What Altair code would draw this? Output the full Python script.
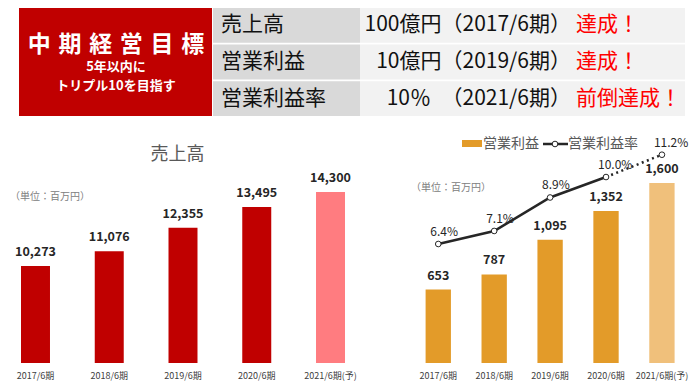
import altair as alt
import pandas as pd

# ---------------- data ----------------
periods = ["2017/6期", "2018/6期", "2019/6期", "2020/6期", "2021/6期(予)"]
is_forecast = [False, False, False, False, True]
sales = [10273, 11076, 12355, 13495, 14300]
op_profit = [653, 787, 1095, 1352, 1600]
op_margin = [6.4, 7.1, 8.9, 10.0, 11.2]

goal_items = ["売上高", "営業利益", "営業利益率"]
goal_targets = ["100億円", "10億円", "10％\u3000"]
goal_periods = ["（2017/6期）", "（2019/6期）", "（2021/6期）"]
goal_status = ["達成！", "達成！", "前倒達成！"]
banner_title = "中期経営目標"
banner_sub = ["5年以内に", "トリプル10を目指す"]
sales_title = "売上高"
unit_label = "（単位：百万円）"
legend_labels = ["営業利益", "営業利益率"]

FONT = "Noto Sans CJK JP"
RED, PINK = "#c00000", "#ff7c80"
ORANGE, LORANGE = "#e39b29", "#f0c07b"
DARK = "#262626"

df = pd.DataFrame({
    "period": periods,
    "sales": sales,
    "profit": op_profit,
    "margin": op_margin,
    "kind": ["予想" if f else "実績" for f in is_forecast],
})
goals = pd.DataFrame({
    "item": goal_items,
    "target": goal_targets,
    "when": goal_periods,
    "status": goal_status,
})
one = pd.DataFrame({"k": [0]})

# ---------------- scales ----------------
ROWS = alt.Scale(type="band", domain=goal_items, range=[0, 108], paddingInner=0.05, paddingOuter=0)
L_X = alt.Scale(type="band", domain=periods, range=[13, 337], paddingInner=0.607, paddingOuter=0)
L_Y = alt.Scale(domain=[5000, 24319], range=[355, 0], zero=False, nice=False)
R_X = alt.Scale(type="band", domain=periods, range=[417.6, 666.6], paddingInner=0.547, paddingOuter=0)
R_YB = alt.Scale(domain=[0, 3156], range=[355, 0], nice=False)
R_YL = alt.Scale(domain=[0, 19.09], range=[355, 0], nice=False)


def xaxis():
    return alt.Axis(title=None, orient="bottom", domain=False, ticks=False, tickSize=0,
                    labelAngle=0, labelFont=FONT, labelFontSize=9, labelColor="#404040",
                    labelPadding=1, grid=False)


# ---------------- header ----------------
red_box = alt.Chart(one).mark_rect(color=RED).encode(
    x=alt.value(11), x2=alt.value(204), y=alt.value(0), y2=alt.value(108))

banner_t = alt.Chart(one).mark_text(
    text="\u2004".join(banner_title), font=FONT, fontSize=23, fontWeight="bold",
    color="white", align="center", baseline="middle").encode(x=alt.value(108), y=alt.value(37))
banner_s1 = alt.Chart(one).mark_text(
    text=banner_sub[0], font=FONT, fontSize=13, fontWeight="bold",
    color="white", align="center", baseline="middle").encode(x=alt.value(108), y=alt.value(59))
banner_s2 = alt.Chart(one).mark_text(
    text=banner_sub[1], font=FONT, fontSize=13, fontWeight="bold",
    color="white", align="center", baseline="middle").encode(x=alt.value(108), y=alt.value(78))

rowy = alt.Y("item:N", scale=ROWS, axis=None)
cell_lab = alt.Chart(goals).mark_rect(color="#d9d9d9").encode(
    x=alt.value(205), x2=alt.value(352), y=rowy)
cell_val = alt.Chart(goals).mark_rect(color="#f2f2f2").encode(
    x=alt.value(352), x2=alt.value(677), y=rowy)

txt_item = alt.Chart(goals).mark_text(
    font=FONT, fontSize=21, color="#111111", align="left", baseline="middle").encode(
    x=alt.value(213), y=rowy, text="item:N")
txt_goal = alt.Chart(goals).transform_calculate(
    line="datum.target + datum.when").mark_text(
    font=FONT, fontSize=21, color="#111111", align="right", baseline="middle").encode(
    x=alt.value(563), y=rowy, text="line:N")
txt_status = alt.Chart(goals).mark_text(
    font=FONT, fontSize=21, color="#ff0000", align="left", baseline="middle").encode(
    x=alt.value(568), y=rowy, text="status:N")

# ---------------- left chart: sales ----------------
bars_l = alt.Chart(df).mark_bar().encode(
    x=alt.X("period:N", scale=L_X, axis=xaxis()),
    y=alt.Y("sales:Q", scale=L_Y, axis=None),
    y2=alt.datum(5000),
    color=alt.Color("kind:N", scale=alt.Scale(domain=["実績", "予想"], range=[RED, PINK]), legend=None),
)
lab_l = alt.Chart(df).mark_text(
    font=FONT, fontSize=12.5, fontWeight="bold", color=DARK, baseline="middle", dy=-14).encode(
    x=alt.X("period:N", scale=L_X, axis=None),
    y=alt.Y("sales:Q", scale=L_Y, axis=None),
    text=alt.Text("sales:Q", format=","),
)
title_l = alt.Chart(one).mark_text(
    text=sales_title, font=FONT, fontSize=18, color="#595959", align="center", baseline="middle").encode(
    x=alt.value(169.5), y=alt.value(147))
unit_l = alt.Chart(one).mark_text(
    text=unit_label, font=FONT, fontSize=10, color="#808080", align="left", baseline="middle").encode(
    x=alt.value(2), y=alt.value(189))

# ---------------- right chart: operating profit ----------------
bars_r = alt.Chart(df).mark_bar().encode(
    x=alt.X("period:N", scale=R_X, axis=xaxis()),
    y=alt.Y("profit:Q", scale=R_YB, axis=None),
    color=alt.Color("kind:N", scale=alt.Scale(domain=["実績", "予想"], range=[ORANGE, LORANGE]), legend=None),
)
lab_r = alt.Chart(df).mark_text(
    font=FONT, fontSize=12.5, fontWeight="bold", color=DARK, baseline="middle", dy=-14).encode(
    x=alt.X("period:N", scale=R_X, axis=None),
    y=alt.Y("profit:Q", scale=R_YB, axis=None),
    text=alt.Text("profit:Q", format=","),
)
line_solid = alt.Chart(df).transform_filter(
    alt.FieldOneOfPredicate(field="period", oneOf=periods[:4])).mark_line(
    color=DARK, strokeWidth=2.5).encode(
    x=alt.X("period:N", scale=R_X, axis=None),
    y=alt.Y("margin:Q", scale=R_YL, axis=None),
)
line_dot = alt.Chart(df).transform_filter(
    alt.FieldOneOfPredicate(field="period", oneOf=periods[3:])).mark_line(
    color=DARK, strokeWidth=2.5, strokeDash=[2, 3.5]).encode(
    x=alt.X("period:N", scale=R_X, axis=None),
    y=alt.Y("margin:Q", scale=R_YL, axis=None),
)
pts = alt.Chart(df).mark_point(
    filled=True, fill="white", stroke=DARK, strokeWidth=1, size=32, opacity=1).encode(
    x=alt.X("period:N", scale=R_X, axis=None),
    y=alt.Y("margin:Q", scale=R_YL, axis=None),
)
lab_m = alt.Chart(df).transform_calculate(
    lbl="format(datum.margin, '.1f') + '%'").mark_text(
    font=FONT, fontSize=12, color=DARK, align="left", baseline="middle", dx=-8, dy=-12).encode(
    x=alt.X("period:N", scale=R_X, axis=None),
    y=alt.Y("margin:Q", scale=R_YL, axis=None),
    text="lbl:N",
)
unit_r = alt.Chart(one).mark_text(
    text=unit_label, font=FONT, fontSize=10, color="#808080", align="left", baseline="middle").encode(
    x=alt.value(403), y=alt.value(180))

leg_rect = alt.Chart(one).mark_rect(color=ORANGE).encode(
    x=alt.value(454), x2=alt.value(474), y=alt.value(132), y2=alt.value(139))
leg_t1 = alt.Chart(one).mark_text(
    text=legend_labels[0], font=FONT, fontSize=14, color="#595959", align="left", baseline="middle").encode(
    x=alt.value(475), y=alt.value(136))
leg_rule = alt.Chart(one).mark_rule(color=DARK, strokeWidth=2.5).encode(
    x=alt.value(535), x2=alt.value(560), y=alt.value(136))
leg_pt = alt.Chart(one).mark_point(
    filled=True, fill="white", stroke=DARK, strokeWidth=1, size=32, opacity=1).encode(
    x=alt.value(547), y=alt.value(136))
leg_t2 = alt.Chart(one).mark_text(
    text=legend_labels[1], font=FONT, fontSize=14, color="#595959", align="left", baseline="middle").encode(
    x=alt.value(560), y=alt.value(136))

chart = alt.layer(
    red_box, banner_t, banner_s1, banner_s2,
    cell_lab, cell_val, txt_item, txt_goal, txt_status,
    bars_l, lab_l, title_l, unit_l,
    bars_r, lab_r, line_solid, line_dot, pts, lab_m, unit_r,
    leg_rect, leg_t1, leg_rule, leg_pt, leg_t2,
).resolve_scale(
    x="independent", y="independent", color="independent"
).properties(
    width=682, height=362,
    autosize=alt.AutoSizeParams(type="none"),
    padding={"left": 0, "top": 0, "right": 0, "bottom": 11},
).configure_view(stroke=None)

chart.save("out.html", embed_options={"renderer": "svg", "actions": False})
